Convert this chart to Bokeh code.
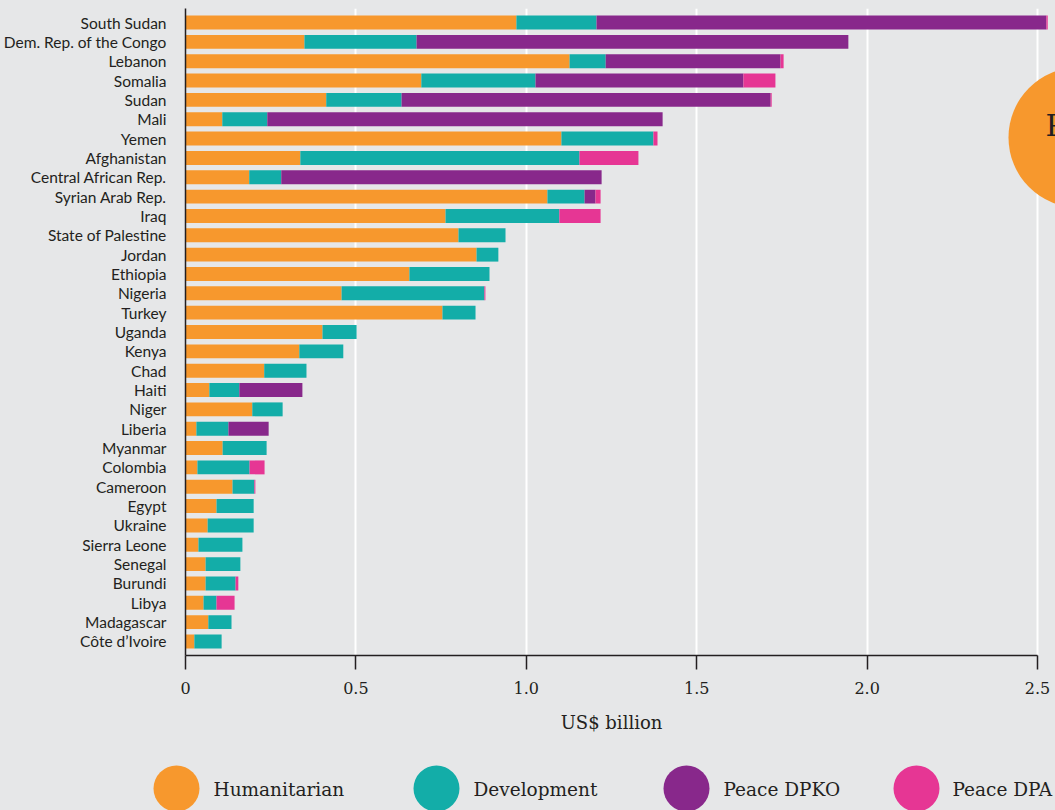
from bokeh.plotting import figure
from bokeh.models import FactorRange, Range1d, FixedTicker, ColumnDataSource, NumeralTickFormatter
from bokeh.core.properties import value
from bokeh.embed import file_html
from bokeh.resources import INLINE

# ---------------- data (US$ billion) ----------------
countries = ["South Sudan", "Dem. Rep. of the Congo", "Lebanon", "Somalia", "Sudan", "Mali",
             "Yemen", "Afghanistan", "Central African Rep.", "Syrian Arab Rep.", "Iraq",
             "State of Palestine", "Jordan", "Ethiopia", "Nigeria", "Turkey", "Uganda", "Kenya",
             "Chad", "Haiti", "Niger", "Liberia", "Myanmar", "Colombia", "Cameroon", "Egypt",
             "Ukraine", "Sierra Leone", "Senegal", "Burundi", "Libya", "Madagascar", "Côte d’Ivoire"]
humanitarian = [0.971, 0.349, 1.127, 0.692, 0.413, 0.108, 1.103, 0.337, 0.187, 1.062, 0.763,
                0.801, 0.854, 0.657, 0.458, 0.754, 0.402, 0.334, 0.231, 0.070, 0.196, 0.032,
                0.109, 0.035, 0.138, 0.091, 0.065, 0.038, 0.059, 0.059, 0.053, 0.067, 0.026]
development = [0.235, 0.329, 0.106, 0.335, 0.221, 0.132, 0.270, 0.819, 0.094, 0.109, 0.334,
               0.138, 0.064, 0.235, 0.419, 0.097, 0.100, 0.129, 0.124, 0.088, 0.089, 0.094,
               0.129, 0.153, 0.064, 0.109, 0.135, 0.129, 0.102, 0.088, 0.038, 0.068, 0.080]
peace_dpko = [1.320, 1.267, 0.513, 0.610, 1.083, 1.160, 0.0, 0.0, 0.940, 0.032, 0.0,
              0.0, 0.0, 0.0, 0.0, 0.0, 0.0, 0.0, 0.0, 0.185, 0.0, 0.118,
              0.0, 0.0, 0.0, 0.0, 0.0, 0.0, 0.0, 0.0, 0.0, 0.0, 0.0]
peace_dpa = [0.004, 0.0, 0.009, 0.094, 0.003, 0.0, 0.012, 0.173, 0.0, 0.015, 0.121,
             0.0, 0.0, 0.0, 0.003, 0.0, 0.0, 0.0, 0.0, 0.0, 0.0, 0.0,
             0.0, 0.044, 0.003, 0.0, 0.0, 0.0, 0.0, 0.008, 0.053, 0.0, 0.0]
series = ["Humanitarian", "Development", "Peace DPKO", "Peace DPA"]
x_ticks = [0, 0.5, 1.0, 1.5, 2.0, 2.5]
x_tick_labels = ["0", "0.5", "1.0", "1.5", "2.0", "2.5"]
x_title = "US$ billion"

# ---------------- style / layout ----------------
colors = ["#F7982D", "#13ADA8", "#88288B", "#E63694"]
BG = "#E6E7E8"
INK = "#231F20"
FIG_W = 1055
LEFT = 185
TOP = 8
FRAME_W = FIG_W - LEFT
FRAME_H = 647
BOTTOM = 52
FIG_H = TOP + FRAME_H + BOTTOM
LOW_H = 810 - FIG_H
PX_PER_UNIT = 340.8
PAD = 0.225
n = len(countries)
ROW_PX = FRAME_H / (n + 2 * PAD)

src = ColumnDataSource(dict(country=countries,
                            **dict(zip(series, [humanitarian, development, peace_dpko, peace_dpa]))))

p = figure(width=FIG_W, height=FIG_H,
           y_range=FactorRange(factors=countries[::-1], range_padding=PAD,
                               range_padding_units="absolute"),
           x_range=Range1d(0, FRAME_W / PX_PER_UNIT),
           output_backend="svg", toolbar_location=None,
           min_border_left=LEFT, min_border_right=0, min_border_top=TOP, min_border_bottom=BOTTOM,
           background_fill_color=BG, border_fill_color=BG, outline_line_color=None)

p.hbar_stack(series, y="country", height=0.72, color=colors, line_color=None, source=src)

# decorative element cut off at the right edge of the reference
y_top = n + PAD
p.scatter(x=[(1078 - LEFT) / PX_PER_UNIT], y=[y_top - (137 - TOP) / ROW_PX], size=140,
          color=colors[0], line_color=None)
p.text(x=[(1045 - LEFT) / PX_PER_UNIT], y=[y_top - (125 - TOP) / ROW_PX], text=["P"],
       text_font=value("DejaVu Serif"), text_font_size="30px", text_color=INK,
       text_baseline="alphabetic")

# x axis
xa = p.xaxis[0]
xa.ticker = FixedTicker(ticks=x_ticks)
xa.formatter = NumeralTickFormatter(format="0.0")
xa.major_label_overrides = {t: s for t, s in zip(x_ticks, x_tick_labels)}
xa.bounds = (0, 2.5)
xa.axis_line_color = INK
xa.axis_line_width = 1.5
xa.major_tick_line_color = INK
xa.major_tick_line_width = 1.5
xa.major_tick_out = 14
xa.major_tick_in = 0
xa.minor_tick_line_color = None
xa.major_label_standoff = 12
xa.major_label_text_font = "DejaVu Serif"
xa.major_label_text_font_size = "16px"
xa.major_label_text_color = INK

# y axis
ya = p.yaxis[0]
ya.axis_line_color = INK
ya.axis_line_width = 1.5
ya.major_tick_line_color = None
ya.minor_tick_line_color = None
ya.major_label_standoff = 13
ya.major_label_text_font = "Lato"
ya.major_label_text_font_size = "15.5px"
ya.major_label_text_color = INK

p.ygrid.grid_line_color = None
p.xgrid.grid_line_color = "white"
p.xgrid.grid_line_width = 2

# ---------------- lower strip: axis title + legend (separate root, pixel coordinates) ----------
low = figure(width=FIG_W, height=LOW_H, x_range=Range1d(0, FIG_W), y_range=Range1d(LOW_H, 0),
             output_backend="svg", toolbar_location=None,
             x_axis_type=None, y_axis_type=None,
             min_border_left=0, min_border_right=0, min_border_top=0, min_border_bottom=0,
             background_fill_color=BG, border_fill_color=BG, outline_line_color=None)
low.grid.grid_line_color = None

# axis title, centred under the 0–2.5 axis span
low.text(x=[LEFT + x_ticks[-1] / 2 * PX_PER_UNIT], y=[722 - FIG_H], text=[x_title],
         text_font=value("DejaVu Serif"), text_font_size="18px", text_color=INK,
         text_align="center", text_baseline="middle")

legend_circle_x = [176, 436, 686, 916]
legend_text_x = [213, 473, 723, 952]
CY = 788 - FIG_H
low.scatter(x=legend_circle_x, y=[CY] * 4, size=46, color=colors, line_color=None)
low.text(x=legend_text_x, y=[CY + 1] * 4, text=series, text_font=value("DejaVu Serif"),
         text_font_size="18.5px", text_color=INK, text_baseline="middle")

html = file_html([p, low], INLINE, title="Funding by country")
html = html.replace("</head>", "<style>html, body { background: #E6E7E8; }</style></head>", 1)
open("out.html", "w").write(html)
